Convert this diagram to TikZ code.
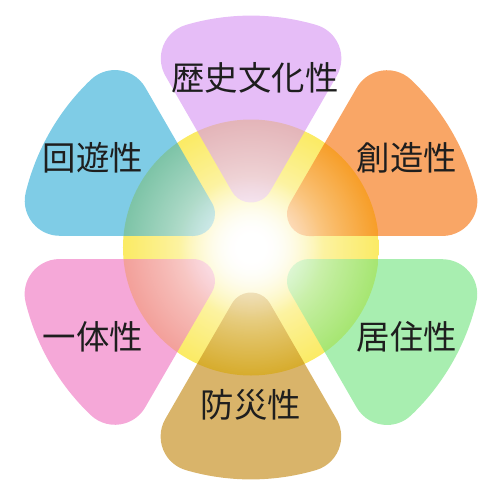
\documentclass[tikz,border=0pt]{standalone}
\usepackage{fontspec}
\usepackage{tikz}
\usetikzlibrary{fadings}
\newfontfamily\cjk{Noto Sans CJK JP}
\usepackage{xcolor}
\definecolor{sunyellow}{HTML}{FBEB64}
\definecolor{petalpurple}{HTML}{D591F2}
\definecolor{petalorange}{HTML}{F56B00}
\definecolor{petalgreen}{HTML}{6EE37B}
\definecolor{petaltan}{HTML}{C08207}
\definecolor{petalpink}{HTML}{EE6EBE}
\definecolor{petalblue}{HTML}{2AAAD5}
\definecolor{labeltext}{HTML}{1E1E1E}

% glowing centre and the soft white light above the petal tips
\pgfdeclareradialshading{sunglow}{\pgfpoint{0bp}{0bp}}{color(0bp)=(white); color(3bp)=(white); color(14bp)=(sunyellow); color(50bp)=(sunyellow)}
\pgfdeclareradialshading{glowshade}{\pgfpoint{0bp}{0bp}}{color(0bp)=(pgftransparent!5); color(4bp)=(pgftransparent!15); color(9bp)=(pgftransparent!40); color(17bp)=(pgftransparent!72); color(25bp)=(pgftransparent!100); color(50bp)=(pgftransparent!100)}
\pgfdeclarefading{glowfade}{\pgfuseshading{glowshade}}

\tikzset{
  petal/.style={fill=#1, fill opacity=0.6},
  petallabel/.style={font=\cjk\fontsize{19}{19}\selectfont, text=labeltext, inner sep=0pt}
}

\begin{document}
\begin{tikzpicture}[x=0.02cm, y=0.02cm]
\useasboundingbox (-251,-243.5) rectangle (240,247.5);

\shade[shading=sunglow] (0,0) coordinate (sun) circle[radius=128];

\foreach \ang/\col in {90/petalpurple, 30/petalorange, -30/petalgreen, -90/petaltan, -150/petalpink, 150/petalblue} {
  \begin{scope}[rotate=\ang-90]
    \fill[petal=\col] (19.05,56) -- (85.7,171.5)
      arc[start angle=-30, end angle=73.7, radius=35]
      arc[start angle=73.7, end angle=106.3, radius=232]
      arc[start angle=106.3, end angle=210, radius=35]
      -- (-19.05,56)
      arc[start angle=210, end angle=330, radius=22] -- cycle;
  \end{scope}
}

\fill[white, path fading=glowfade] (sun) circle[radius=128];

\node[petallabel] (history) at (4,170) {歴史文化性};
\node[petallabel] (creation) at (156,89.5) {創造性};
\node[petallabel] (living) at (156,-89.5) {居住性};
\node[petallabel] (disaster) at (0,-157.5) {防災性};
\node[petallabel] (unity) at (-158,-89.5) {一体性};
\node[petallabel] (circuit) at (-158,89.5) {回遊性};
\end{tikzpicture}
\end{document}
